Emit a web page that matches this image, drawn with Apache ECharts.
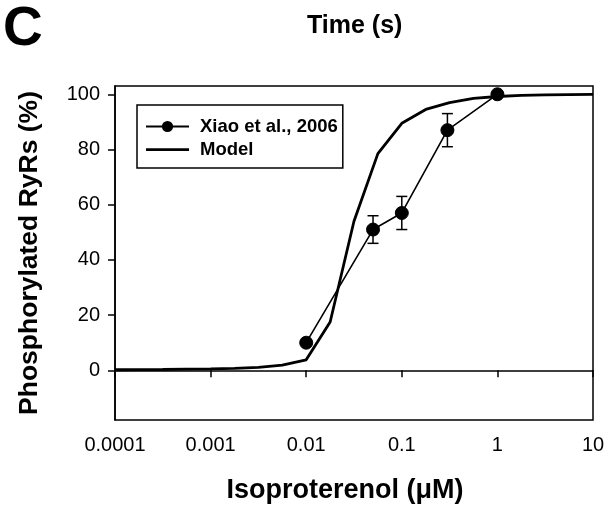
<!DOCTYPE html>
<html>
<head>
<meta charset="utf-8">
<script src="https://cdn.jsdelivr.net/npm/echarts@6/dist/echarts.min.js"></script>
<style>
html,body{margin:0;padding:0;background:#fff;}
#chart{width:609px;height:505px;}
</style>
</head>
<body>
<div id="chart"></div>
<script>
var dataX = [0.01, 0.05, 0.1, 0.3, 1];
var dataY = [10, 51, 57, 87, 100];
var dataErr = [0, 5, 6, 6, 0];
var modelX = [0.0001, 0.000178, 0.000316, 0.000562, 0.001, 0.00178, 0.00316, 0.00562, 0.01, 0.0178, 0.0316, 0.0562, 0.1, 0.178, 0.316, 0.562, 1, 1.78, 3.16, 5.62, 10];
var modelY = [0.2, 0.25, 0.3, 0.4, 0.5, 0.7, 1.1, 1.9, 3.8, 17.5, 54, 78.5, 89.5, 94.5, 97, 98.5, 99.2, 99.6, 99.8, 99.9, 100];
var xTickLabels = ['0.0001', '0.001', '0.01', '0.1', '1', '10'];
var yTickValues = [0, 20, 40, 60, 80, 100];
var seriesNames = ['Xiao et al., 2006', 'Model'];

var FONT = '"Liberation Sans", Arial, Helvetica, sans-serif';
var chart = echarts.init(document.getElementById('chart'), null, {renderer: 'canvas'});

var dataPts = dataX.map(function (x, i) { return [x, dataY[i]]; });
var errPts = dataX.map(function (x, i) { return [x, dataY[i], dataErr[i]]; }).filter(function (d) { return d[2] > 0; });
var modelPts = modelX.map(function (x, i) { return [x, modelY[i]]; });

var lineOnlyIcon = 'path://M0,0 L0.01,0 L0,0.01 Z M0,5.8 L43,5.8 L43,8.6 L0,8.6 Z M0,14 L0.01,14 L0,13.99 Z';

chart.setOption({
  animation: false,
  backgroundColor: '#fff',
  title: [
    {text: 'C', left: -2, top: -3, textStyle: {fontFamily: FONT, fontSize: 55, fontWeight: 'bold', color: '#000'}},
    {text: 'Time (s)', left: 302, top: 9, textStyle: {fontFamily: FONT, fontSize: 25, fontWeight: 'bold', color: '#000'}}
  ],
  grid: {left: 115, right: 16, top: 86, bottom: 85, containLabel: false, outerBoundsMode: 'none',
         show: true, borderColor: '#000', borderWidth: 1.5, backgroundColor: 'transparent'},
  legend: {
    orient: 'vertical', left: 137, top: 105,
    data: [{name: seriesNames[0]}, {name: seriesNames[1], icon: lineOnlyIcon}],
    borderColor: '#000', borderWidth: 1.5,
    padding: [12, 5, 9, 8],
    itemWidth: 43, itemHeight: 14, itemGap: 4,
    textStyle: {fontFamily: FONT, fontSize: 18.5, lineHeight: 19, fontWeight: 'bold', color: '#000', padding: [0, 0, 0, 6]}
  },
  xAxis: {
    type: 'log', logBase: 10, min: 0.0001, max: 10,
    name: 'Isoproterenol (\u03bcM)', nameLocation: 'middle', nameGap: 57,
    nameTextStyle: {fontFamily: FONT, fontSize: 27, fontWeight: 'bold', color: '#000', padding: [0, 18, 0, 0]},
    axisLine: {lineStyle: {color: '#000', width: 1.5}},
    axisTick: {show: true, inside: false, length: 7, lineStyle: {color: '#000', width: 1.5}},
    minorTick: {show: false},
    splitLine: {show: false},
    axisLabel: {
      margin: 15, color: '#000', fontFamily: FONT, fontSize: 20,
      formatter: function (v) {
        for (var i = 0; i < xTickLabels.length; i++) {
          if (Math.abs(Math.log10(v) - Math.log10(parseFloat(xTickLabels[i]))) < 1e-6) return xTickLabels[i];
        }
        return '';
      }
    }
  },
  yAxis: {
    type: 'value', min: -18, max: 103,
    name: 'Phosphorylated RyRs (%)', nameLocation: 'middle', nameGap: 72,
    nameTextStyle: {fontFamily: FONT, fontSize: 26.5, fontWeight: 'bold', color: '#000'},
    axisLine: {show: true, lineStyle: {color: '#000', width: 1.5}},
    axisTick: {show: true, inside: false, length: 7, lineStyle: {color: '#000', width: 1.5}, customValues: yTickValues},
    splitLine: {show: false},
    axisLabel: {margin: 15, color: '#000', fontFamily: FONT, fontSize: 20, customValues: yTickValues}
  },
  series: [
    {
      name: seriesNames[0], type: 'line', data: dataPts,
      symbol: 'circle', symbolSize: 13, showSymbol: true,
      lineStyle: {color: '#000', width: 1.6},
      itemStyle: {color: '#000', borderColor: '#000'},
      z: 4
    },
    {
      name: seriesNames[1], type: 'line', data: modelPts,
      symbol: 'none', showSymbol: false,
      lineStyle: {color: '#000', width: 2.8},
      itemStyle: {color: '#000'},
      z: 3
    },
    {
      name: 'err', type: 'custom', data: errPts,
      encode: {x: 0, y: 1},
      renderItem: function (params, api) {
        var x = api.value(0), y = api.value(1), e = api.value(2);
        var top = api.coord([x, y + e]);
        var bot = api.coord([x, y - e]);
        var hw = 5.5;
        var st = {stroke: '#000', lineWidth: 1.5};
        return {type: 'group', children: [
          {type: 'line', shape: {x1: top[0], y1: top[1], x2: bot[0], y2: bot[1]}, style: st},
          {type: 'line', shape: {x1: top[0] - hw, y1: top[1], x2: top[0] + hw, y2: top[1]}, style: st},
          {type: 'line', shape: {x1: bot[0] - hw, y1: bot[1], x2: bot[0] + hw, y2: bot[1]}, style: st}
        ]};
      },
      z: 5
    }
  ]
});
</script>
</body>
</html>
